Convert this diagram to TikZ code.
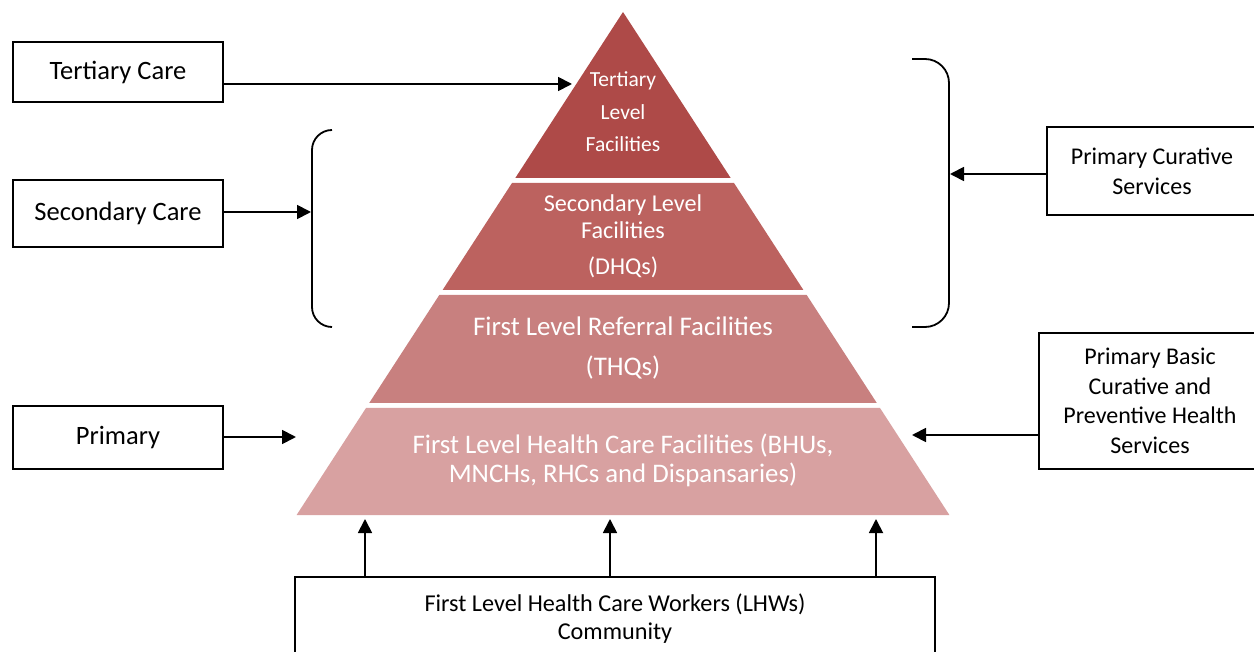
\documentclass[tikz,border=0pt]{standalone}
\usepackage{fontspec}
\setmainfont{Carlito}
\usetikzlibrary{arrows.meta,positioning,calc}
\definecolor{tierA}{RGB}{174,74,72}
\definecolor{tierB}{RGB}{188,98,95}
\definecolor{tierC}{RGB}{200,128,127}
\definecolor{tierD}{RGB}{216,161,161}

\begin{document}
\begin{tikzpicture}[x=1pt,y=-1pt,
  box/.style={draw,line width=1.8pt,align=center,inner sep=0pt},
  tiertext/.style={text=white,align=center,inner sep=0pt},
  >={Triangle[length=14pt,width=14pt]},line width=1.8pt]
\useasboundingbox (0,0) rectangle (1254,652);
% pyramid, four tiers
\fill[tierA] (623,12) -- (730.7,178) -- (515.3,178) -- cycle;
\fill[tierB] (512,183) -- (734,183) -- (803.4,290) -- (442.6,290) -- cycle;
\fill[tierC] (439.3,295) -- (806.7,295) -- (876.8,403) -- (369.2,403) -- cycle;
\fill[tierD] (366,408) -- (880,408) -- (949.4,515) -- (296.6,515) -- cycle;
\node[tiertext,font=\fontsize{21.5}{32.5}\selectfont] (tert) at (623,112) {Tertiary\\Level\\Facilities};
\node[tiertext,font=\fontsize{24.2}{27}\selectfont] (sec) at (623,236) {Secondary Level\\Facilities\\[9pt](DHQs)};
\node[tiertext,font=\fontsize{26.9}{40}\selectfont] (thq) at (623,348) {First Level Referral Facilities\\(THQs)};
\node[tiertext,font=\fontsize{26.8}{29}\selectfont] (bhu) at (623,460) {First Level Health Care Facilities (BHUs,\\MNCHs, RHCs and Dispansaries)};
% boxes on the left
\node[box,minimum width=210,minimum height=60,font=\fontsize{26.5}{29}\selectfont] (tcare) at (118,72) {Tertiary Care};
\node[box,minimum width=210,minimum height=67,font=\fontsize{26.5}{29}\selectfont] (scare) at (118,213.5) {\raisebox{3pt}{Secondary Care}};
\node[box,minimum width=210,minimum height=63,font=\fontsize{26.5}{29}\selectfont] (pcare) at (118,437.5) {\raisebox{2pt}{Primary}};
% boxes on the right
\node[box,minimum width=210,minimum height=88,font=\fontsize{24}{30}\selectfont] (cure) at (1152,171) {Primary Curative\\Services};
\node[box,minimum width=222,minimum height=136,font=\fontsize{24}{29.5}\selectfont] (basic) at (1150,401) {Primary Basic\\Curative and\\Preventive Health\\Services};
\node[box,minimum width=640,minimum height=84,font=\fontsize{24.2}{28}\selectfont] (lhw) at (615,619) {First Level Health Care Workers (LHWs)\\Community};
% braces
\draw[rounded corners=20pt] (332,130) -- (312,130) -- (312,327) -- (332,327);
\draw[rounded corners=24pt] (912,59) -- (949,59) -- (949,327) -- (912,327);
\coordinate (tpeak) at (572,84);
\coordinate (lbrace) at (311,212);
\coordinate (pbase) at (296,437);
\coordinate (rbrace) at (950,174);
\coordinate (pright) at (912,435);
% arrows
\draw[->] ($(tcare.east)+(0,12)$) -- (tpeak);
\draw[->] (scare.east |- lbrace) -- (lbrace);
\draw[->] (pcare.east |- pbase) -- (pbase);
\draw[->] (cure.west |- rbrace) -- (rbrace);
\draw[->] (basic.west |- pright) -- (pright);
\foreach \x in {365,610,876}
  \draw[->] (lhw.north -| \x,0) -- (\x,519);
\end{tikzpicture}
\end{document}
